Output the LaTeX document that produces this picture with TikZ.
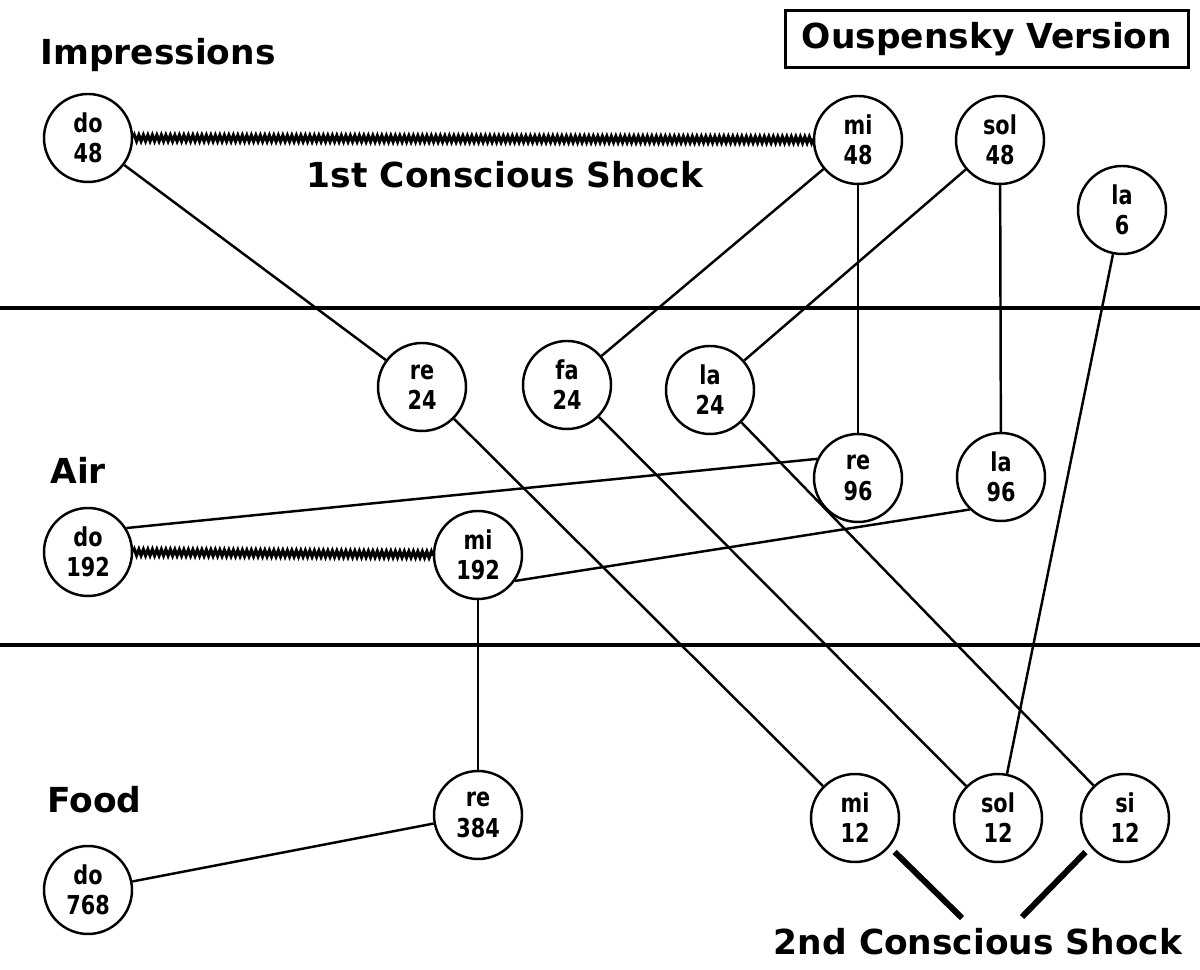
\documentclass[tikz,border=0pt]{standalone}
\usepackage{fontspec}
\setmainfont{DejaVu Sans}
\newfontfamily\notefont[FakeStretch=0.8]{DejaVu Sans}
\usepackage{tikz}
\usetikzlibrary{positioning,decorations.pathmorphing}

\begin{document}
\begin{tikzpicture}[x=0.1mm,y=-0.1mm,
    note/.style={draw, circle, line width=0.7pt, minimum size=8.8mm, inner sep=0pt, align=center,
        font=\notefont\bfseries\fontsize{7.4}{8.6}\selectfont},
    link/.style={line width=0.7pt},
    wavy/.style={line width=0.9pt, decorate, decoration={zigzag, segment length=0.45mm, amplitude=0.3mm}},
    level/.style={font=\bfseries\fontsize{9.8}{12}\selectfont}]
    \useasboundingbox (0,0) rectangle (1200,970);

    % Levels
    \draw[line width=1pt] (0,308) -- (1200,308);
    \draw[line width=1pt] (0,645) -- (1200,645);
    \node[level, anchor=west] (impr) at (28,55) {Impressions};
    \node[level, anchor=west] (air) at (38,470) {Air};
    \node[level, anchor=west] (food) at (35,800) {Food};
    \node[level, draw, line width=0.9pt, minimum width=40.3mm, minimum height=5.4mm] (version) at (987,39) {Ouspensky Version};

    % Impressions
    \node[note] (do48) at (88,138) {do\\48};
    \node[note] (mi48) at (858,140) {mi\\48};
    \node[note] (sol48) at (1000,140) {sol\\48};
    \node[note] (la6) at (1122,210) {la\\6};
    \node[note] (re24) at (422,387) {re\\24};
    \node[note] (fa24) at (567,385) {fa\\24};
    \node[note] (la24) at (710,390) {la\\24};
    \node[note] (mi12) at (855,818) {mi\\12};
    \node[note] (sol12) at (998,818) {sol\\12};
    \node[note] (si12) at (1125,818) {si\\12};

    % Air
    \node[note] (re96) at (858,478) {re\\96};
    \node[note] (la96) at (1001,477) {la\\96};
    \node[note] (do192) at (88,552) {do\\192};
    \node[note] (mi192) at (478,555) {mi\\192};

    % Food
    \node[note] (re384) at (478,815) {re\\384};
    \node[note] (do768) at (88,890) {do\\768};

    % 1st shock
    \draw[wavy] (do48) -- (mi48);
    \node[level] (first) at (505,175) {1st Conscious Shock};
    \draw[wavy] (do192) -- (mi192);

    \draw[link] (do48) -- (re24);
    \draw[link] (mi48) -- (fa24);
    \draw[link] (mi48) -- (re96);
    \draw[link] (sol48) -- (la24);
    \draw[link] (sol48) -- (la96);
    \draw[link] (la6) -- (sol12);
    \draw[link] (re24) -- (mi12);
    \draw[link] (fa24) -- (sol12);
    \draw[link] (la24) -- (si12);
    \draw[link] (do192.32) -- (re96.155);
    \draw[link] (mi192.-35) -- (la96.226);
    \draw[link] (mi192) -- (re384);
    \draw[link] (re384) -- (do768);

    % 2nd shock
    \node[level] (second) at (978,942) {2nd Conscious Shock};
    \coordinate (tipL) at (962,918);
    \coordinate (tipR) at (1022,917);
    \draw[line width=1.7pt, shorten <=2pt] (mi12.-40) -- (tipL);
    \draw[line width=1.7pt, shorten <=2pt] (si12.-140) -- (tipR);
\end{tikzpicture}
\end{document}
